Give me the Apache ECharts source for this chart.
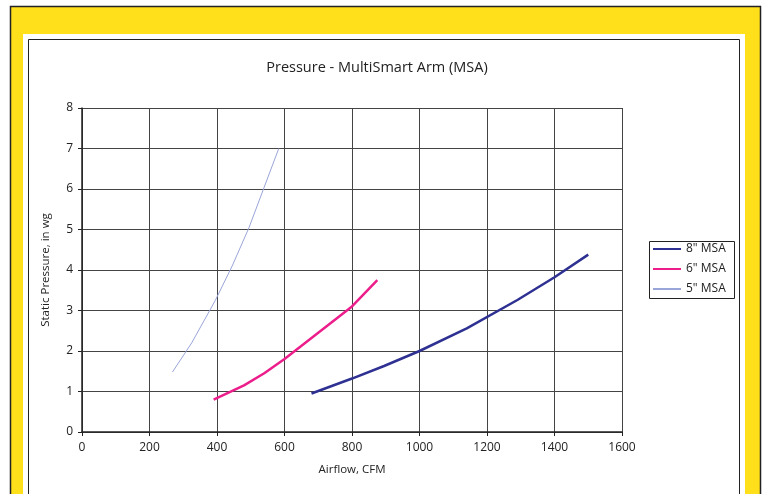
<!DOCTYPE html>
<html><head><meta charset="utf-8">
<script src="https://cdn.jsdelivr.net/npm/echarts@6/dist/echarts.min.js"></script>
<style>html,body{margin:0;padding:0;background:#fff;}#c{width:763px;height:494px;}</style>
</head><body><div id="c"></div>
<script>
var title = 'Pressure - MultiSmart Arm (MSA)';
var xName = 'Airflow, CFM';
var yName = 'Static Pressure, in wg';
var seriesNames = ['8" MSA', '6" MSA', '5" MSA'];
var cfm8 = [680, 800, 895, 1000, 1140, 1290, 1400, 1500];
var p8   = [0.95, 1.32, 1.63, 2.0, 2.56, 3.26, 3.82, 4.38];
var cfm6 = [390, 480, 540, 600, 700, 800, 875];
var p6   = [0.8, 1.15, 1.45, 1.8, 2.45, 3.1, 3.75];
var cfm5 = [268, 325, 395, 445, 495, 540, 583];
var p5   = [1.48, 2.2, 3.25, 4.1, 5.05, 6.05, 7.0];

function pairs(xs, ys){ return xs.map(function(x,i){ return [x, ys[i]]; }); }
var font = '"Open Sans", Lato, sans-serif';
var chart = echarts.init(document.getElementById('c'), null, {renderer:'canvas'});
chart.setOption({
  backgroundColor:'#fff',
  animation:false,
  graphic:[
    {type:'rect', z:-10, shape:{x:10.5,y:6.5,width:750,height:500}, style:{fill:'#FFE01B', stroke:'#222', lineWidth:1.5}},
    {type:'rect', z:-9, shape:{x:23,y:34,width:722,height:470}, style:{fill:'#fff'}},
    {type:'rect', z:-8, shape:{x:28.5,y:39.5,width:711,height:470}, style:{fill:'#fff', stroke:'#222', lineWidth:1}},
    {type:'rect', z:5, shape:{x:649.5,y:241.5,width:85,height:57}, style:{fill:'none', stroke:'#222', lineWidth:1}}
  ],
  title:{text:title, left:372, top:55, textAlign:'center',
    textStyle:{fontFamily:font, fontSize:14.5, fontWeight:'normal', color:'#222'}},
  legend:{orient:'vertical', left:650, top:242, itemWidth:28, itemHeight:14, itemGap:8,
    data:seriesNames, textStyle:{fontFamily:font, fontSize:12, color:'#222'}, padding:[1,4,1,2],
    itemStyle:{opacity:0}},
  grid:{left:82, right:141, top:108, bottom:62},
  xAxis:{type:'value', min:0, max:1600, interval:200, name:xName, nameLocation:'middle', nameGap:32,
    nameTextStyle:{fontFamily:font, fontSize:11.5, color:'#222'},
    axisLine:{show:true, lineStyle:{color:'#222', width:1.5}},
    axisTick:{show:true, length:4, lineStyle:{color:'#222'}},
    axisLabel:{margin:10, fontFamily:font, fontSize:12, color:'#222', formatter:function(v){return String(v);}},
    splitLine:{show:true, lineStyle:{color:'#444', width:1}}},
  yAxis:{type:'value', min:0, max:8, interval:1, name:yName, nameLocation:'middle', nameGap:30,
    nameTextStyle:{fontFamily:font, fontSize:11.5, color:'#222'},
    axisLine:{show:true, lineStyle:{color:'#222', width:1.5}},
    axisTick:{show:true, length:4, lineStyle:{color:'#222'}},
    axisLabel:{margin:9, fontFamily:font, fontSize:12, color:'#222'},
    splitLine:{show:true, lineStyle:{color:'#444', width:1}}},
  series:[
    {name:seriesNames[0], type:'line', data:pairs(cfm8,p8), symbol:'none', lineStyle:{color:'#2E3192', width:2.5}, itemStyle:{color:'#2E3192'}},
    {name:seriesNames[1], type:'line', data:pairs(cfm6,p6), symbol:'none', lineStyle:{color:'#EC1E8C', width:2.5}, itemStyle:{color:'#EC1E8C'}},
    {name:seriesNames[2], type:'line', data:pairs(cfm5,p5), symbol:'none', lineStyle:{color:'#9AA6DA', width:1}, itemStyle:{color:'#9AA6DA'}}
  ]
});
</script></body></html>
